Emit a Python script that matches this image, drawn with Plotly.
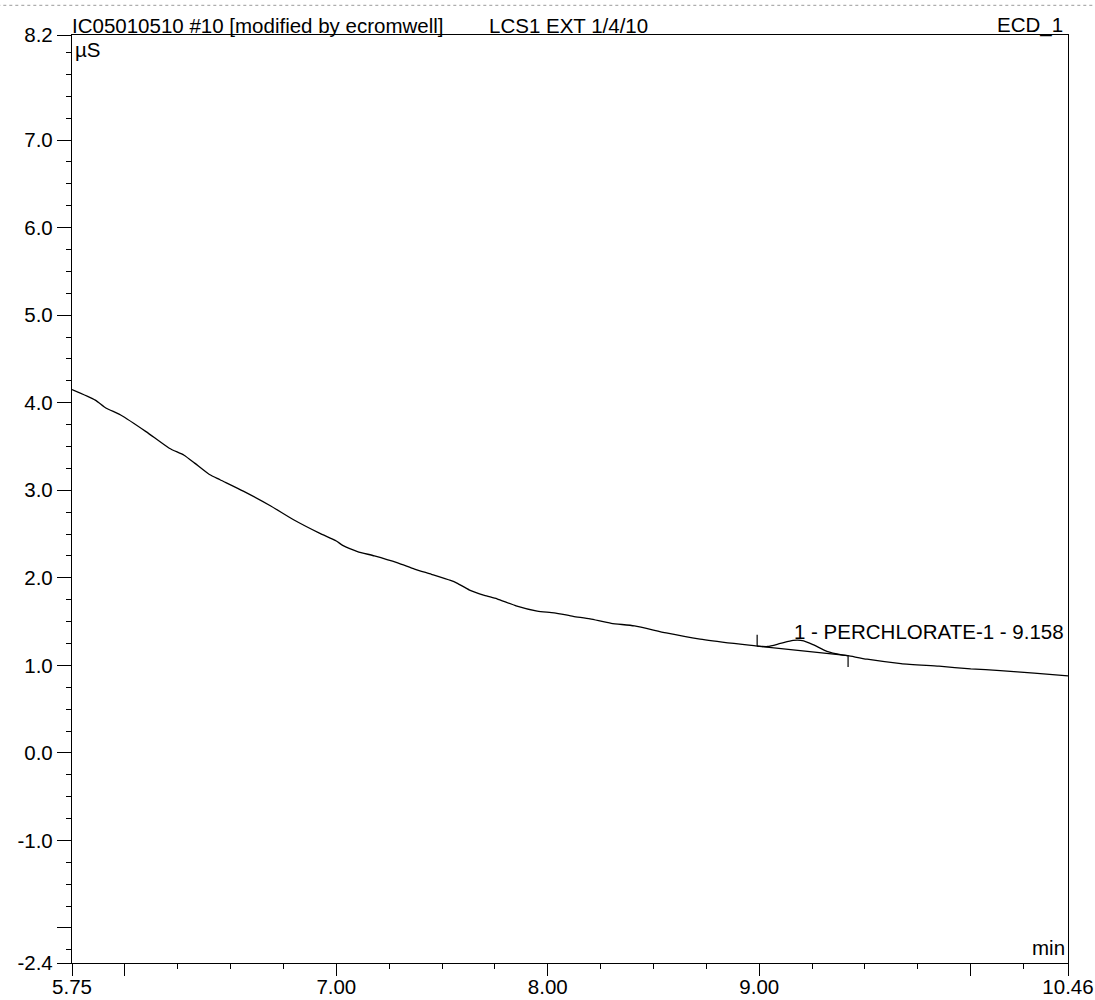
import numpy as np
import plotly.graph_objects as go

# ---- data ----
time_min = [5.75, 5.86, 5.91, 5.98, 6.10, 6.21, 6.28, 6.33, 6.40, 6.45, 6.56, 6.69, 6.80,
            6.92, 7.00, 7.03, 7.10, 7.18, 7.29, 7.37, 7.45, 7.54, 7.57, 7.63, 7.70, 7.76,
            7.85, 7.95, 8.03, 8.12, 8.20, 8.30, 8.41, 8.56, 8.72, 8.88, 8.99, 9.04, 9.10,
            9.16, 9.21, 9.26, 9.32, 9.39, 9.42, 9.51, 9.67, 9.85, 10.00, 10.14, 10.30, 10.46]
signal_us = [4.15, 4.03, 3.94, 3.86, 3.67, 3.48, 3.40, 3.31, 3.18, 3.12, 2.99, 2.82, 2.66,
             2.51, 2.42, 2.37, 2.30, 2.25, 2.17, 2.10, 2.04, 1.97, 1.94, 1.86, 1.80, 1.76,
             1.68, 1.62, 1.60, 1.56, 1.53, 1.48, 1.45, 1.37, 1.30, 1.25, 1.22, 1.215, 1.25,
             1.285, 1.28, 1.23, 1.16, 1.12, 1.11, 1.07, 1.02, 0.99, 0.96, 0.94, 0.91, 0.88]

peak_names = ["1 - PERCHLORATE-1 - 9.158"]
peak_rt = [9.158]
peak_start = [8.99]
peak_end = [9.42]

x_tickvals = [5.75, 6, 7, 8, 9, 10, 10.46]
x_ticktext = ["5.75", "", "7.00", "8.00", "9.00", "", "10.46"]
y_tickvals = [8.2, 7, 6, 5, 4, 3, 2, 1, 0, -1, -2, -2.4]
y_ticktext = ["8.2", "7.0", "6.0", "5.0", "4.0", "3.0", "2.0", "1.0", "0.0", "-1.0", "", "-2.4"]

title_left = "IC05010510 #10 [modified by ecromwell]"
title_mid = "LCS1 EXT 1/4/10"
title_right = "ECD_1"
y_unit = "µS"
x_unit = "min"

FONT = "Liberation Sans, Arial, sans-serif"
FS = 20.5

fig = go.Figure()
fig.add_trace(go.Scatter(x=time_min, y=signal_us, mode="lines",
                         line=dict(color="black", width=1.3, shape="spline", smoothing=0.6),
                         showlegend=False, hoverinfo="skip"))

for name, rt, ps, pe in zip(peak_names, peak_rt, peak_start, peak_end):
    ys = float(np.interp(ps, time_min, signal_us))
    ye = float(np.interp(pe, time_min, signal_us))
    # integration baseline
    fig.add_trace(go.Scatter(x=[ps, pe], y=[ys, ye], mode="lines",
                             line=dict(color="black", width=1.2), showlegend=False,
                             hoverinfo="skip"))
    # start / end delimiters
    fig.add_trace(go.Scatter(x=[ps, ps], y=[ys, ys + 0.13], mode="lines",
                             line=dict(color="black", width=1.2), showlegend=False,
                             hoverinfo="skip"))
    fig.add_trace(go.Scatter(x=[pe, pe], y=[ye, ye - 0.13], mode="lines",
                             line=dict(color="black", width=1.2), showlegend=False,
                             hoverinfo="skip"))
    apex = float(np.interp(rt, time_min, signal_us))
    fig.add_annotation(x=rt, y=apex, text=name, showarrow=False, xanchor="left",
                       yanchor="bottom", yshift=-5, xshift=-1,
                       font=dict(family=FONT, size=FS, color="black"))

axis_common = dict(showgrid=False, zeroline=False, showline=True, linecolor="black",
                   linewidth=1.3, mirror=True, ticks="outside", tickcolor="black",
                   tickwidth=1.2, automargin=False,
                   tickfont=dict(family=FONT, size=FS, color="black"))

fig.update_xaxes(range=[5.75, 10.46], tickmode="array", tickvals=x_tickvals,
                 ticktext=x_ticktext, ticklen=12, ticklabelstandoff=-7,
                 minor=dict(ticks="outside", ticklen=5, dtick=0.25, tick0=0,
                            tickcolor="black", tickwidth=1, showgrid=False),
                 **axis_common)
fig.update_yaxes(range=[-2.4, 8.2], tickmode="array", tickvals=y_tickvals,
                 ticktext=y_ticktext, ticklen=14,
                 minor=dict(ticks="outside", ticklen=5, dtick=0.25, tick0=0,
                            tickcolor="black", tickwidth=1, showgrid=False),
                 **axis_common)

tfont = dict(family=FONT, size=FS, color="black")
fig.add_annotation(xref="paper", yref="paper", x=0, y=1, text=title_left, showarrow=False,
                   xanchor="left", yanchor="bottom", yshift=-4, xshift=-2, font=tfont)
fig.add_annotation(xref="paper", yref="paper", x=0.4167, y=1, text=title_mid, showarrow=False,
                   xanchor="left", yanchor="bottom", yshift=-4, font=tfont)
fig.add_annotation(xref="paper", yref="paper", x=1, y=1, text=title_right, showarrow=False,
                   xanchor="right", yanchor="bottom", yshift=-4, xshift=-3, font=tfont)
fig.add_annotation(xref="paper", yref="paper", x=0, y=1, text=y_unit, showarrow=False,
                   xanchor="left", yanchor="top", yshift=-1, xshift=1, font=tfont)
fig.add_annotation(xref="paper", yref="paper", x=1, y=0, text=x_unit, showarrow=False,
                   xanchor="right", yanchor="bottom", yshift=2, xshift=-1, font=tfont)

# faint scanned border line at the very top
fig.add_shape(type="line", xref="paper", yref="paper", x0=-0.075, x1=1.03, y0=1.032, y1=1.032,
              line=dict(color="#9a9a9a", width=1, dash="dot"))

fig.update_layout(width=1095, height=1000, margin=dict(l=72, r=27, t=35, b=37, autoexpand=False),
                  paper_bgcolor="white", plot_bgcolor="white",
                  font=dict(family=FONT, size=FS, color="black"), showlegend=False)

fig.write_html("out.html")
